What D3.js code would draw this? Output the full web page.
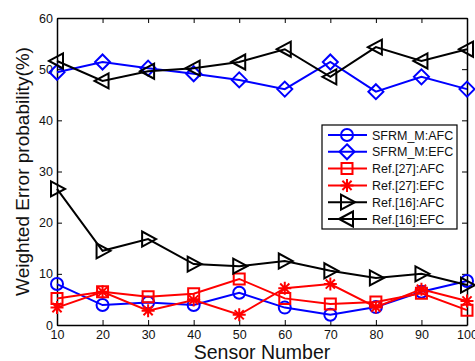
<!DOCTYPE html>
<html>
<head>
<meta charset="utf-8">
<script src="https://cdn.jsdelivr.net/npm/d3@7"></script>
<style>
  html, body { margin: 0; padding: 0; background: #fff; overflow: hidden; }
  svg { display: block; font-family: "Liberation Sans", Arial, sans-serif; }
</style>
</head>
<body>
<div id="chart"></div>
<script>
// ---- Data ----
const sensors = [10, 20, 30, 40, 50, 60, 70, 80, 90, 100];
const yTicks = [0, 10, 20, 30, 40, 50, 60];

const sfrmAFC  = [8.0, 3.9, 4.4, 3.9, 6.3, 3.4, 2.0, 3.5, 6.5, 8.6];
const sfrmEFC  = [49.4, 51.4, 50.2, 49.1, 47.9, 46.1, 51.4, 45.6, 48.5, 46.1];
const ref27AFC = [5.2, 6.5, 5.5, 6.1, 9.0, 5.2, 4.1, 4.5, 6.2, 2.9];
const ref27EFC = [3.4, 6.5, 2.8, 4.9, 2.0, 7.2, 8.0, 3.5, 7.0, 4.7];
const ref16AFC = [26.6, 14.5, 16.8, 11.9, 11.5, 12.5, 10.6, 9.2, 10.0, 7.8];
const ref16EFC = [51.6, 47.7, 49.6, 50.2, 51.4, 53.9, 48.5, 54.3, 51.6, 53.9];

const series = [
  { name: "SFRM_M:AFC",   values: sfrmAFC,  color: "#0000ff", marker: "circle" },
  { name: "SFRM_M:EFC",   values: sfrmEFC,  color: "#0000ff", marker: "diamond" },
  { name: "Ref.[27]:AFC", values: ref27AFC, color: "#ff0000", marker: "square" },
  { name: "Ref.[27]:EFC", values: ref27EFC, color: "#ff0000", marker: "star" },
  { name: "Ref.[16]:AFC", values: ref16AFC, color: "#000000", marker: "triRight" },
  { name: "Ref.[16]:EFC", values: ref16EFC, color: "#000000", marker: "triLeft" }
];

const W = 475, H = 361;
// plot box edges (pixels)
const m = { left: 57, right: 467, top: 18, bottom: 325 };

const svg = d3.select("#chart").append("svg")
  .attr("width", W).attr("height", H);

const x = d3.scaleLinear().domain([10, 100]).range([m.left, m.right]);
const y = d3.scaleLinear().domain([0, 60]).range([m.bottom, m.top]);

// marker path drawing, centred on (0,0)
function markerPath(type) {
  const p = d3.path();
  if (type === "circle") {
    p.arc(0, 0, 6, 0, 2 * Math.PI);
  } else if (type === "diamond") {
    p.moveTo(0, -7.5); p.lineTo(7.5, 0); p.lineTo(0, 7.5); p.lineTo(-7.5, 0); p.closePath();
  } else if (type === "square") {
    p.rect(-5.5, -5.5, 11, 11);
  } else if (type === "star") {
    const r = 6.5;
    [0, 45, 90, 135].forEach(a => {
      const t = a * Math.PI / 180;
      p.moveTo(-r * Math.cos(t), -r * Math.sin(t));
      p.lineTo(r * Math.cos(t), r * Math.sin(t));
    });
  } else if (type === "triRight") {
    p.moveTo(8, 0); p.lineTo(-6, -7.5); p.lineTo(-6, 7.5); p.closePath();
  } else if (type === "triLeft") {
    p.moveTo(-8, 0); p.lineTo(6, -7.5); p.lineTo(6, 7.5); p.closePath();
  }
  return p.toString();
}

// ---- Axes box with inward ticks ----
const axisFont = 12.5;
const xBottom = d3.axisBottom(x).tickValues(sensors).tickSizeInner(-5).tickSizeOuter(0).tickPadding(5);
const xTop = d3.axisTop(x).tickValues(sensors).tickSizeInner(-5).tickSizeOuter(0).tickFormat("");
const yLeft = d3.axisLeft(y).tickValues(yTicks).tickSizeInner(-5).tickSizeOuter(0).tickPadding(4);
const yRight = d3.axisRight(y).tickValues(yTicks).tickSizeInner(-5).tickSizeOuter(0).tickFormat("");

[
  [xBottom, `translate(0,${m.bottom})`],
  [xTop, `translate(0,${m.top})`],
  [yLeft, `translate(${m.left},0)`],
  [yRight, `translate(${m.right},0)`]
].forEach(([ax, tr]) => {
  const g = svg.append("g").attr("transform", tr).call(ax);
  g.select(".domain").attr("stroke", "#000").attr("stroke-width", 1.5);
  g.selectAll(".tick line").attr("stroke", "#000");
  g.selectAll("text").attr("font-size", axisFont).attr("fill", "#111")
    .style("font-family", "'Liberation Sans', Arial, sans-serif");
});

// ---- Series ----
const line = d3.line().x((d, i) => x(sensors[i])).y(d => y(d));
const plot = svg.append("g");

series.forEach(s => {
  plot.append("path")
    .attr("d", line(s.values))
    .attr("fill", "none")
    .attr("stroke", s.color)
    .attr("stroke-width", 2);
  plot.selectAll(null)
    .data(s.values)
    .join("path")
    .attr("transform", (d, i) => `translate(${x(sensors[i])},${y(d)})`)
    .attr("d", markerPath(s.marker))
    .attr("fill", "none")
    .attr("stroke", s.color)
    .attr("stroke-width", 2);
});

// ---- Legend ----
const lg = svg.append("g");
lg.append("rect")
  .attr("x", 322).attr("y", 125).attr("width", 135).attr("height", 104)
  .attr("fill", "#fff").attr("stroke", "#000").attr("stroke-width", 1.2);

series.forEach((s, i) => {
  const ry = 135 + i * 16.8;
  lg.append("line")
    .attr("x1", 328).attr("x2", 367).attr("y1", ry).attr("y2", ry)
    .attr("stroke", s.color).attr("stroke-width", 2);
  lg.append("path")
    .attr("transform", `translate(347,${ry})`)
    .attr("d", markerPath(s.marker))
    .attr("fill", "none").attr("stroke", s.color).attr("stroke-width", 2);
  lg.append("text")
    .attr("x", 372).attr("y", ry + 4.5)
    .attr("font-size", 12.5).attr("fill", "#111")
    .text(s.name);
});

// ---- Axis titles ----
svg.append("text")
  .attr("x", 262).attr("y", 359)
  .attr("text-anchor", "middle")
  .attr("font-size", 19.5).attr("fill", "#111")
  .text("Sensor Number");

svg.append("text")
  .attr("transform", `translate(29,${(m.top + m.bottom) / 2}) rotate(-90)`)
  .attr("text-anchor", "middle")
  .attr("font-size", 19).attr("fill", "#111")
  .text("Weighted Error probability(%)");
</script>
</body>
</html>
